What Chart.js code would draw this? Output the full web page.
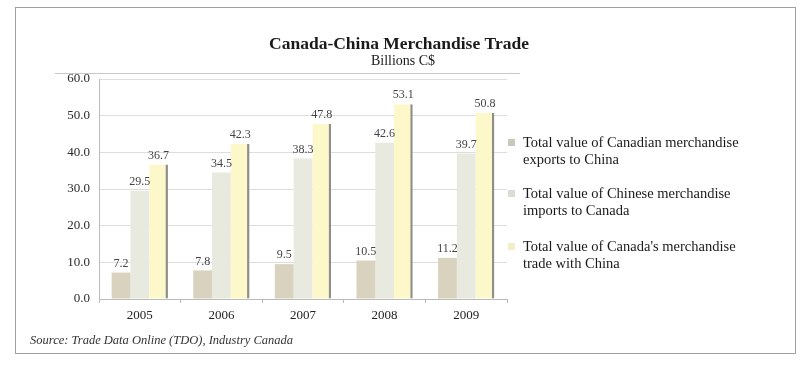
<!DOCTYPE html>
<html>
<head>
<meta charset="utf-8">
<script src="https://cdn.jsdelivr.net/npm/chart.js@4.4.1/dist/chart.umd.min.js"></script>
<style>
  html, body { margin: 0; padding: 0; background: #ffffff; }
  #wrap { position: relative; width: 810px; height: 365px; }
  #frame { position: absolute; left: 15px; top: 7px; width: 781px; height: 347px; border: 1px solid #a0a0a0; box-sizing: border-box; }
  canvas { position: absolute; left: 0; top: 0; }
</style>
</head>
<body>
<div id="wrap">
  <div id="frame"></div>
  <canvas id="c" width="810" height="365"></canvas>
</div>
<script>
// ---- Data ----
const years = ['2005', '2006', '2007', '2008', '2009'];
const exportsToChina = [7.2, 7.8, 9.5, 10.5, 11.2];
const importsFromChina = [29.5, 34.5, 38.3, 42.6, 39.7];
const totalTrade = [36.7, 42.3, 47.8, 53.1, 50.8];
const seriesLabels = [
  ['Total value of Canadian merchandise', 'exports to China'],
  ['Total value of Chinese merchandise', 'imports to Canada'],
  ["Total value of Canada's merchandise", 'trade with China']
];
const yTicks = [0, 10, 20, 30, 40, 50, 60];
const chartTitle = 'Canada-China Merchandise Trade';
const chartSubtitle = 'Billions C$';
const sourceNote = 'Source: Trade Data Online (TDO), Industry Canada';

const barColors = ['#d9d2bf', '#e9eadf', '#fcf8c9'];
const legendColors = ['#cbc7bb', '#dcdcd5', '#f1eec8'];
const SERIF = '"Liberation Serif", "DejaVu Serif", serif';

const decorPlugin = {
  id: 'decor',
  beforeDraw(chart) {
    const ctx = chart.ctx;
    ctx.save();
    ctx.strokeStyle = '#c8c8c8';
    ctx.lineWidth = 1;
    ctx.beginPath();
    ctx.moveTo(55, 73.5);
    ctx.lineTo(520, 73.5);
    ctx.stroke();
    ctx.restore();
  },
  afterDraw(chart) {
    const ctx = chart.ctx;
    ctx.save();
    ctx.fillStyle = '#1a1a1a';
    ctx.textAlign = 'center';
    ctx.textBaseline = 'alphabetic';
    ctx.font = 'bold 17.5px ' + SERIF;
    ctx.fillText(chartTitle, 399, 49);
    ctx.font = '14px ' + SERIF;
    ctx.fillText(chartSubtitle, 403, 65);
    ctx.textAlign = 'left';
    ctx.fillStyle = '#333';
    ctx.font = 'italic 12.5px ' + SERIF;
    ctx.fillText(sourceNote, 30, 344);
    const itemTops = [147, 198, 251];
    chart.data.datasets.forEach((ds, i) => {
      const y = itemTops[i];
      ctx.fillStyle = legendColors[i];
      ctx.fillRect(508, y - 8, 7, 7);
      ctx.fillStyle = '#1a1a1a';
      ctx.font = '14.5px ' + SERIF;
      seriesLabels[i].forEach((line, k) => {
        ctx.fillText(line, 523, y + k * 17);
      });
    });
    ctx.restore();
  },
  afterDatasetsDraw(chart) {
    const ctx = chart.ctx;
    ctx.save();
    ctx.fillStyle = '#444';
    ctx.font = '12px ' + SERIF;
    ctx.textAlign = 'center';
    ctx.textBaseline = 'bottom';
    chart.data.datasets.forEach((ds, i) => {
      const meta = chart.getDatasetMeta(i);
      meta.data.forEach((bar, j) => {
        ctx.fillText(ds.data[j].toFixed(1), bar.x, bar.y - 3);
      });
    });
    ctx.restore();
  }
};

new Chart(document.getElementById('c'), {
  type: 'bar',
  data: {
    labels: years,
    datasets: [
      { label: seriesLabels[0].join(' '), data: exportsToChina, backgroundColor: barColors[0], borderWidth: 0 },
      { label: seriesLabels[1].join(' '), data: importsFromChina, backgroundColor: barColors[1], borderWidth: 0 },
      { label: seriesLabels[2].join(' '), data: totalTrade, backgroundColor: barColors[2],
        borderColor: '#8f8f88', borderWidth: { top: 0, left: 0, bottom: 0, right: 2.5 }, borderSkipped: false }
    ]
  },
  options: {
    responsive: false,
    animation: false,
    events: [],
    layout: { padding: { left: 54, right: 303, top: 79, bottom: 36 } },
    plugins: {
      legend: { display: false },
      title: { display: false },
      tooltip: { enabled: false }
    },
    datasets: { bar: { categoryPercentage: 0.69, barPercentage: 1.0 } },
    scales: {
      x: {
        grid: { display: true, drawOnChartArea: false, offset: true, tickLength: 4, color: '#bbbbbb' },
        border: { color: '#bbbbbb' },
        ticks: { color: '#222', font: { family: SERIF, size: 13 }, padding: 5 },
        afterFit(scale) { scale.height = 30; }
      },
      y: {
        min: 0, max: 60,
        afterBuildTicks(scale) { scale.ticks = yTicks.map(v => ({ value: v })); },
        grid: { color: '#dddddd', drawTicks: false },
        border: { color: '#bbbbbb' },
        ticks: { color: '#2a2a2a', font: { family: SERIF, size: 13 }, padding: 9,
                 callback: v => Number(v).toFixed(1) },
        afterFit(scale) { scale.width = 45; }
      }
    }
  },
  plugins: [decorPlugin]
});
</script>
</body>
</html>
